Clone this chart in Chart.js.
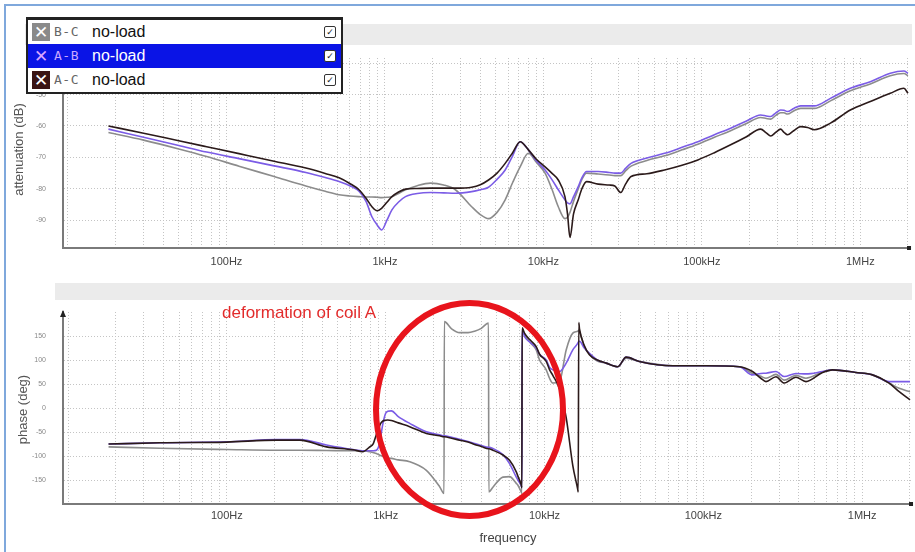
<!DOCTYPE html>
<html>
<head>
<meta charset="utf-8">
<script src="https://cdn.jsdelivr.net/npm/chart.js@4.4.0/dist/chart.umd.min.js"></script>
<style>
  body { margin: 0; background: #fff; font-family: 'Liberation Sans', Arial, sans-serif; }
  #wrap { position: relative; width: 915px; height: 552px; overflow: hidden; background: #fff; }
  #frame { position: absolute; left: 4px; top: 4px; width: 920px; height: 560px; border-left: 2px solid #7fa8dc; border-top: 2px solid #7fa8dc; }
  .band { position: absolute; background: #ebebeb; }
  canvas { position: absolute; left: 0; }
  .ytitle { position: absolute; font-size: 13px; color: #555; transform: rotate(-90deg); transform-origin: center; white-space: nowrap; }
  #xtitle { position: absolute; left: 458px; top: 530px; width: 100px; text-align: center; font-size: 13px; color: #444; }
  #legend { position: absolute; left: 26px; top: 17px; width: 313px; border: 2px solid #222; border-top-width: 3px; background: #fff; z-index: 5; }
  .row { position: relative; height: 24px; line-height: 24px; }
  .row.sel { background: #0a14e6; }
  .ico { position: absolute; left: 4px; top: 3px; width: 18px; height: 18px; color: #fff; font: bold 17px/18px 'DejaVu Sans', sans-serif; text-align: center; }
  .code { position: absolute; left: 26px; top: 0; font: 13px/24px 'DejaVu Sans Mono', monospace; letter-spacing: 0.5px; color: #666; }
  .name { position: absolute; left: 64px; top: 0; font-size: 16px; color: #111; }
  .chk { position: absolute; right: 5px; top: 6px; width: 10px; height: 10px; border: 1.5px solid #333; border-radius: 2px; background: #fff; font: 9px/10px 'DejaVu Sans', sans-serif; text-align: center; color: #222; }
  #note { position: absolute; left: 222px; top: 303px; font-size: 17px; color: #e22b2b; white-space: nowrap; z-index: 4; }
  #ring { position: absolute; left: 373px; top: 300px; width: 181px; height: 207px; border: 6.5px solid #e8141c; border-radius: 50%; z-index: 4; }
</style>
</head>
<body>
<div id="wrap">
  <div id="frame"></div>
  <div class="band" style="left:25px; top:24px; width:887px; height:21px;"></div>
  <div class="band" style="left:55px; top:283px; width:857px; height:17px;"></div>
  <canvas id="att" width="915" height="275" style="top:0"></canvas>
  <canvas id="pha" width="915" height="277" style="top:275px"></canvas>
  <div class="ytitle" style="left:-32px; top:142px; width:100px; text-align:center;">attenuation (dB)</div>
  <div class="ytitle" style="left:-28px; top:402px; width:100px; text-align:center;">phase (deg)</div>
  <div id="xtitle">frequency</div>
  <div id="note">deformation of coil A</div>
  <div id="ring"></div>
  <div id="legend">
    <div class="row"><div class="ico" style="background:#8a8a8a">✕</div><span class="code">B-C</span><span class="name">no-load</span><div class="chk">✓</div></div>
    <div class="row sel"><div class="ico" style="color:#d9a6ff">✕</div><span class="code" style="color:#c9a8ff">A-B</span><span class="name" style="color:#fff">no-load</span><div class="chk">✓</div></div>
    <div class="row"><div class="ico" style="background:#3a1414">✕</div><span class="code">A-C</span><span class="name">no-load</span><div class="chk">✓</div></div>
  </div>
</div>
<script>
// ---------------- data ----------------
var seriesNames = ['B-C no-load', 'A-B no-load', 'A-C no-load'];
var seriesColors = ['#8c8c8c', '#7b5ce6', '#2b1a1a'];

var xTickValues = [1e2, 1e3, 1e4, 1e5, 1e6];
var xTickLabels = ['100Hz', '1kHz', '10kHz', '100kHz', '1MHz'];
var attTicks = [-90, -80, -70, -60, -50, -40];
var phaseTicks = [-150, -100, -50, 0, 50, 100, 150];

// attenuation (dB)
var attFreq = [18, 30, 50, 75, 120, 200, 317, 420, 514, 600, 686, 760, 828, 893, 953, 1030, 1107, 1220, 1349, 1600,
  1938, 2350, 2783, 3527, 4000, 4508, 5100, 5741, 6400, 7132, 8046, 9000, 10250, 11300, 12420, 13680, 14200, 14720,
  15500, 16600, 17500, 18720, 22170, 26000, 28250, 30800, 33000, 35760, 45000, 58200, 75000, 94400, 120000, 152000,
  190000, 235000, 255000, 272000, 293000, 314000, 330000, 347000, 380000, 420000, 465000, 512000, 648000, 865000,
  1157000, 1546000, 1885000, 2000000];
var attBC = [-62.1, -64.5, -67.3, -69.7, -72.8, -76.1, -79.1, -80.8, -81.9, -82.3, -82.5, -82.6, -82.6, -82.7, -82.8,
  -82.7, -82.5, -81.5, -80.3, -79.0, -78.2, -78.8, -80.3, -85.7, -88.2, -89.5, -87.5, -83.5, -78.0, -73.0, -68.7, -71.5,
  -75.0, -80.0, -85.7, -89.5, -89.0, -87.5, -84.0, -80.0, -77.0, -75.0, -75.3, -75.6, -75.8, -75.8, -74.3, -72.8, -71.0,
  -69.5, -67.6, -65.8, -63.6, -61.5, -59.3, -57.3, -57.6, -57.8, -56.6, -55.8, -55.8, -56.2, -55.2, -54.4, -54.4, -54.4,
  -52.0, -48.8, -46.6, -44.0, -43.3, -44.0];
var attAB = [-61.0, -63.6, -66.2, -68.3, -70.4, -72.7, -74.8, -76.4, -77.7, -79.0, -80.8, -84.0, -88.9, -91.5, -93.1,
  -90.0, -86.7, -84.2, -82.5, -81.5, -81.2, -81.3, -81.4, -80.9, -80.3, -79.5, -77.0, -74.0, -69.5, -65.0, -67.6, -71.0,
  -74.0, -77.0, -80.3, -83.5, -84.5, -84.8, -82.5, -79.3, -76.5, -74.5, -74.5, -74.8, -75.0, -75.0, -73.5, -71.9, -70.2,
  -68.7, -66.8, -65.0, -62.8, -60.7, -58.5, -56.5, -56.8, -57.0, -55.8, -54.9, -55.0, -55.4, -54.4, -53.6, -53.6, -53.6,
  -51.2, -48.0, -45.9, -43.2, -42.5, -43.2];
var attAC = [-60.0, -62.3, -64.7, -66.6, -68.8, -71.2, -73.4, -75.1, -76.5, -78.3, -80.3, -83.0, -85.7, -87.0, -86.2,
  -84.3, -82.5, -81.0, -80.1, -79.9, -79.8, -79.8, -79.8, -79.5, -78.7, -77.2, -75.0, -71.9, -68.5, -65.0, -67.6, -70.5,
  -73.0, -75.0, -77.2, -82.5, -88.0, -95.5, -88.0, -83.5, -80.0, -77.7, -78.5, -78.8, -79.1, -81.2, -78.5, -76.1, -75.2,
  -74.0, -72.5, -70.8, -68.5, -66.0, -63.5, -61.0, -62.2, -63.2, -62.0, -61.0, -62.0, -62.8, -61.5, -60.2, -60.5, -61.2,
  -59.1, -54.9, -52.2, -49.6, -48.0, -49.6];

// phase (deg)
var phaseFreq = [18, 38, 100, 206, 288, 424, 623, 717, 793, 836, 874, 900, 930, 961, 1000, 1030, 1086, 1200, 1416, 1804,
  2187, 2330, 2340, 2600, 2920, 3300, 3628, 4000, 4440, 4460, 4733, 5470, 6026, 6640, 6800, 7135, 7200, 7230, 7480, 8100,
  8865, 9303, 10250, 10750, 11280, 12420, 13690, 15070, 16200, 16300, 16430, 16600, 17800, 19190, 21500, 24440, 28920,
  32650, 39550, 64100, 104000, 168500, 204000, 230000, 248000, 286600, 323000, 382600, 442600, 563000, 650700, 912000,
  1161000, 1479000, 1710000, 2000000];
var phaseBC = [-81, -84, -86.5, -88, -88, -88.5, -89, -89, -91, -93, -95, -97, -99, -101, -103, -104, -105, -108, -112,
  -130, -164, -178, 180, 165, 157, 157, 160, 166, 177, -175, -165, -144, -143, -157, -161, -175, -178, 165, 153, 137,
  121, 100, 79.5, 62, 52, 55, 121, 156, 160, 161, 162, 160, 128, 111, 98, 93.5, 86, 104, 97, 88, 88, 86, 72, 66, 62, 70,
  58, 68, 62, 75, 79.5, 74, 69, 52, 41, 34];
var phaseAB = [-75, -72.5, -70.4, -65.6, -65.6, -77, -86.5, -89, -89, -89, -88, -82, -60, -32, -11, -7, -6, -18, -32,
  -49.5, -56, -58, -58, -61, -65, -70, -74, -78, -82, -82, -84.4, -97, -116, -144, -150, -162, -166, 165, 149, 137, 125,
  112, 100, 85, 79.5, 76, 93.5, 121, 135, 137, 138, 139, 125, 114, 100, 93.5, 86, 106, 97, 88, 88, 86, 69, 72, 72.5, 76,
  65.5, 72, 71, 76, 79.5, 74, 69, 55, 55, 55];
var phaseAC = [-75, -72.5, -71, -67, -67, -81, -87, -91, -81, -74, -55, -43, -32, -27, -25.5, -25, -26, -31, -39, -53,
  -58, -60, -60, -63, -67, -71, -76, -80, -85, -85, -88, -98, -109, -133, -142, -160, -166, 167, 156, 142, 128, 112, 97,
  80, 68, 40, -20, -120, -170, -175, 178, 165, 130, 111, 100, 93.5, 86, 106, 97, 88, 88, 86, 76, 62, 55, 65, 52, 64, 55,
  74, 79.5, 74, 69, 52, 34, 17];

// ---------------- chart building ----------------
function pairs(xs, ys) {
  return xs.map(function (x, i) { return { x: x, y: ys[i] }; });
}

function makeSets(freq, lists) {
  return lists.map(function (vals, i) {
    return {
      label: seriesNames[i],
      data: pairs(freq, vals),
      borderColor: seriesColors[i],
      borderWidth: 1.6,
      pointRadius: 0,
      fill: false,
      cubicInterpolationMode: 'monotone',
      order: 3 - i
    };
  });
}

var gridLines = [];
for (var e = 1; e <= 6; e++) {
  for (var m = 1; m <= 9; m++) {
    var v = m * Math.pow(10, e);
    if (v <= 2.03e6) gridLines.push(v);
  }
}

var axisEnds = {
  id: 'axisEnds',
  afterDraw: function (chart, args, opts) {
    var ctx = chart.ctx, a = chart.chartArea;
    ctx.save();
    ctx.fillStyle = '#222';
    ctx.fillRect(a.right - 2, a.bottom - 2, 4, 4);
    if (opts.arrow) {
      ctx.beginPath();
      ctx.moveTo(a.left, a.top - 2);
      ctx.lineTo(a.left - 3, a.top + 5);
      ctx.lineTo(a.left + 3, a.top + 5);
      ctx.closePath();
      ctx.fill();
    }
    ctx.restore();
  }
};

function makeOptions(yMin, yMax, yTicks, padTop, xHeight, xPad, arrow) {
  return {
    responsive: false,
    animation: false,
    layout: { padding: { left: 0, right: 3, top: padTop, bottom: 0 } },
    plugins: { legend: { display: false }, tooltip: { enabled: false }, axisEnds: { arrow: arrow } },
    scales: {
      x: {
        type: 'logarithmic',
        min: 9.3,
        max: 2.03e6,
        afterBuildTicks: function (axis) { axis.ticks = gridLines.map(function (v) { return { value: v }; }); },
        afterFit: function (axis) { axis.height = xHeight; },
        ticks: {
          autoSkip: false, maxRotation: 0, padding: xPad,
          color: '#444', font: { size: 11, family: 'Liberation Sans' },
          callback: function (value) {
            var k = xTickValues.indexOf(value);
            return k >= 0 ? xTickLabels[k] : '';
          }
        },
        grid: { color: '#c4c4c4', drawTicks: false },
        border: { color: '#7a7a7a', width: 2, dash: [1, 2] }
      },
      y: {
        min: yMin,
        max: yMax,
        afterBuildTicks: function (axis) { axis.ticks = yTicks.map(function (v) { return { value: v }; }); },
        afterFit: function (axis) { axis.width = 63; },
        ticks: { padding: 17, color: '#888', font: { size: 7, family: 'Liberation Sans' } },
        grid: { color: '#c4c4c4', drawTicks: false },
        border: { color: '#7a7a7a', width: 2, dash: [1, 2] }
      }
    }
  };
}

new Chart(document.getElementById('att'), {
  type: 'line',
  data: { datasets: makeSets(attFreq, [attBC, attAB, attAC]) },
  options: makeOptions(-98.85, -38.35, attTicks, 58, 27, 7, false),
  plugins: [axisEnds]
});

new Chart(document.getElementById('pha'), {
  type: 'line',
  data: { datasets: makeSets(phaseFreq, [phaseBC, phaseAB, phaseAC]) },
  options: makeOptions(-200, 200, phaseTicks, 37, 48, 5, true),
  plugins: [axisEnds]
});
</script>
</body>
</html>
